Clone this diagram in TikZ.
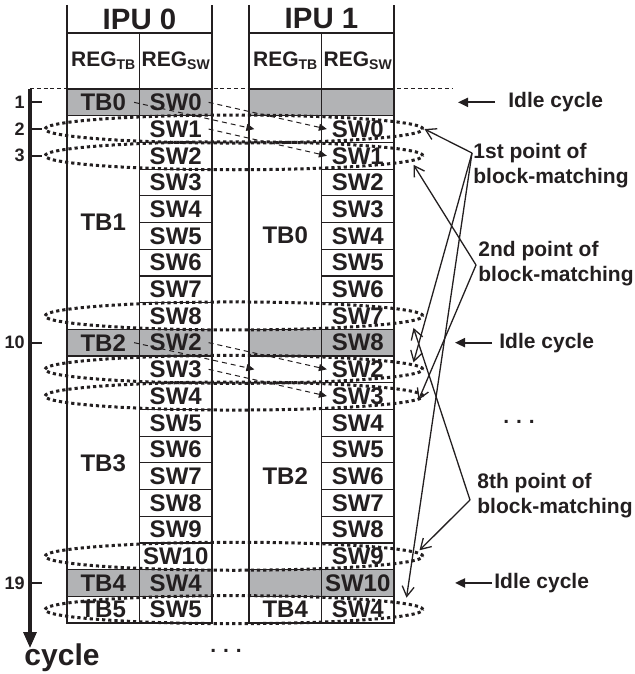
\documentclass[tikz,border=0pt]{standalone}
\usepackage{fontspec}
\setmainfont{Liberation Sans}
\usetikzlibrary{arrows.meta,shapes.geometric}
\definecolor{ink}{RGB}{35,31,32}
\definecolor{idlegray}{RGB}{178,179,181}
\tikzset{
  cell/.style={draw=ink,line width=0.6pt,minimum width=36.25pt,minimum height=13.35pt,
    inner sep=0pt,font=\fontsize{12}{12}\selectfont\bfseries,text=ink},
  idle/.style={cell,fill=idlegray},
  span/.style={cell,minimum height=106.8pt},
  spantxt/.style={font=\fontsize{12}{12}\selectfont\bfseries,text=ink,inner sep=0pt},
  hdr/.style={cell,minimum height=28pt,font=\fontsize{10.5}{10.5}\selectfont\bfseries},
  title/.style={font=\fontsize{14.7}{14.7}\selectfont\bfseries,text=ink,inner sep=0pt},
  frame/.style={draw=ink,line width=0.7pt},
  side/.style={font=\fontsize{10.5}{12.5}\selectfont\bfseries,text=ink,inner sep=0pt},
  num/.style={font=\fontsize{9}{9}\selectfont\bfseries,text=ink,inner sep=0pt},
  pass/.style={draw=ink,ellipse,minimum width=189pt,minimum height=14pt,inner sep=0pt,
    line width=1.5pt,dash pattern=on 1.6pt off 1.5pt},
  hop/.style={draw=ink,line width=0.5pt,dash pattern=on 2.5pt off 2pt,
    -{Triangle[length=4pt,width=3.5pt]}},
  ptr/.style={draw=ink,line width=0.65pt,-{Straight Barb[length=5pt,width=6pt]}},
  idlear/.style={draw=ink,line width=1pt,-{Triangle[length=5pt,width=4.5pt]}},
  axis/.style={draw=ink,line width=1.6pt},
}
\newcommand{\reg}[1]{REG\raisebox{-1.6pt}{\fontsize{7}{7}\selectfont #1}}
\newcommand{\rowy}[1]{89+26.7*(#1)-13.35}

\begin{document}
\begin{tikzpicture}[x=0.5pt,y=-0.5pt]
  \useasboundingbox (0,0) rectangle (634,674);

  % column heads
  \node[title] (ipu0) at (139.5,19) {IPU 0};
  \node[title] (ipu1) at (321.5,19) {IPU 1};
  \draw[frame] (67,5) -- (67,33) -- (212,33) -- (212,5);
  \draw[frame] (249,5) -- (249,33) -- (394,33) -- (394,5);
  \node[hdr] (ha) at (103.25,61) {\reg{TB}};
  \node[hdr] (hb) at (175.75,61) {\reg{SW}};
  \node[hdr] (hc) at (285.25,61) {\reg{TB}};
  \node[hdr] (hd) at (357.75,61) {\reg{SW}};

  % IPU 0 registers
  \node[idle] (ta1) at (103.25,{\rowy{1}}) {TB0};
  \node[span] (ta2) at (103.25,{\rowy{5.5}}) {TB1};
  \node[idle] (ta10) at (103.25,{\rowy{10}}) {TB2};
  \node[span] (ta11) at (103.25,{\rowy{14.5}}) {TB3};
  \node[idle] (ta19) at (103.25,{\rowy{19}}) {TB4};
  \node[cell] (ta20) at (103.25,{\rowy{20}}) {TB5};
  \node[idle] (sa1) at (175.75,{\rowy{1}}) {SW0};
  \foreach \r [evaluate=\r as \k using int(\r-1)] in {2,...,9}
    \node[cell] (sa\r) at (175.75,{\rowy{\r}}) {SW\k};
  \node[idle] (sa10) at (175.75,{\rowy{10}}) {SW2};
  \foreach \r [evaluate=\r as \k using int(\r-8)] in {11,...,18}
    \node[cell] (sa\r) at (175.75,{\rowy{\r}}) {SW\k};
  \node[idle] (sa19) at (175.75,{\rowy{19}}) {SW4};
  \node[cell] (sa20) at (175.75,{\rowy{20}}) {SW5};

  % IPU 1 registers
  \node[idle] (tb1) at (285.25,{\rowy{1}}) {};
  \node[span,label={[spantxt,yshift=-6.5pt]center:TB0}] (tb2) at (285.25,{\rowy{5.5}}) {};
  \node[idle] (tb10) at (285.25,{\rowy{10}}) {};
  \node[span,label={[spantxt,yshift=-6.5pt]center:TB2}] (tb11) at (285.25,{\rowy{14.5}}) {};
  \node[idle] (tb19) at (285.25,{\rowy{19}}) {};
  \node[cell] (tb20) at (285.25,{\rowy{20}}) {TB4};
  \node[idle] (sb1) at (357.75,{\rowy{1}}) {};
  \foreach \r [evaluate=\r as \k using int(\r-2)] in {2,...,9}
    \node[cell] (sb\r) at (357.75,{\rowy{\r}}) {SW\k};
  \node[idle] (sb10) at (357.75,{\rowy{10}}) {SW8};
  \foreach \r [evaluate=\r as \k using int(\r-9)] in {11,...,18}
    \node[cell] (sb\r) at (357.75,{\rowy{\r}}) {SW\k};
  \node[idle] (sb19) at (357.75,{\rowy{19}}) {SW10};
  \node[cell] (sb20) at (357.75,{\rowy{20}}) {SW4};

  \draw[draw=ink,line width=0.5pt,dash pattern=on 2pt off 1.4pt] (30,88.5) -- (453,88.5);

  % cycle axis
  \coordinate (ax0) at (30,89);
  \coordinate (ax1) at (30,648);
  \draw[axis,-{Triangle[length=8pt,width=6.5pt]}] (ax0) -- (ax1);
  \node[font=\fontsize{15}{15}\selectfont\bfseries,text=ink,inner sep=0pt,anchor=base]
    (cyc) at (62,665) {cycle};
  \foreach \r in {1,2,3,10,19} {
    \draw[draw=ink,line width=1pt] (30,{\rowy{\r}}) -- (42,{\rowy{\r}});
    \node[num,anchor=east] (n\r) at (25,{\rowy{\r}}) {\r};
  }

  % passing of TB and SW to IPU 1
  \draw[hop] ([xshift=-3pt]ta1.east) -- ([shift={(6,14)}]tb2.north west);
  \draw[hop] ([xshift=-2pt]sa1.east) -- ([xshift=3pt]sb2.west);
  \draw[hop] ([xshift=-2pt]sa2.east) -- ([xshift=3pt]sb3.west);
  \draw[hop] ([xshift=-3pt]ta10.east) -- ([shift={(6,14)}]tb11.north west);
  \draw[hop] ([xshift=-2pt]sa10.east) -- ([xshift=3pt]sb11.west);
  \draw[hop] ([xshift=-2pt]sa11.east) -- ([xshift=3pt]sb12.west);

  % matching rows
  \foreach \r in {2,3,9,11,12,18,20}
    \node[pass] (m\r) at (234,{\rowy{\r}}) {};

  % idle cycles
  \node[side,anchor=west] (idle1) at (508,{\rowy{1}}) {Idle cycle};
  \node[side,anchor=west] (idle10) at (499,{\rowy{10}}) {Idle cycle};
  \node[side,anchor=west] (idle19) at (494,{\rowy{19}}) {Idle cycle};
  \coordinate (i1) at (458,{\rowy{1}});
  \coordinate (i10) at (455,{\rowy{10}});
  \coordinate (i19) at (455,{\rowy{19}});
  \draw[idlear] ([xshift=-6.5pt]idle1.west) -- (i1);
  \draw[idlear] ([xshift=-3.5pt]idle10.west) -- (i10);
  \draw[idlear] ([xshift=-1pt]idle19.west) -- (i19);

  % points of block-matching
  \node[side,anchor=west,align=left] (p1) at (473,165.5) {1st point of\\block-matching};
  \node[side,anchor=west,align=left] (p2) at (478,263.5) {2nd point of\\block-matching};
  \node[side,anchor=west,align=left] (p8) at (477,495.5) {8th point of\\block-matching};
  \coordinate (apx1) at (472,153);
  \coordinate (apx2) at (476,265);
  \coordinate (apx8) at (470,500);
  \draw[ptr] (apx1) -- (m2.east);
  \draw[ptr] (apx1) -- ([shift={(-11,-7)}]m11.east);
  \draw[ptr] (apx1) -- ([shift={(-18,-12)}]m20.east);
  \draw[ptr] (apx2) -- ([shift={(-11,9)}]m3.east);
  \draw[ptr] (apx2) -- ([shift={(-6,4)}]m12.east);
  \draw[ptr] (apx8) -- ([shift={(-11,12)}]m9.east);
  \draw[ptr] (apx8) -- ([shift={(-5,-6)}]m18.east);

  \node[side,anchor=base] (more1) at (519,423) {.\,\,.\,\,.};
  \node[side,anchor=base] (more2) at (226,652) {.\,\,.\,\,.};
\end{tikzpicture}
\end{document}
